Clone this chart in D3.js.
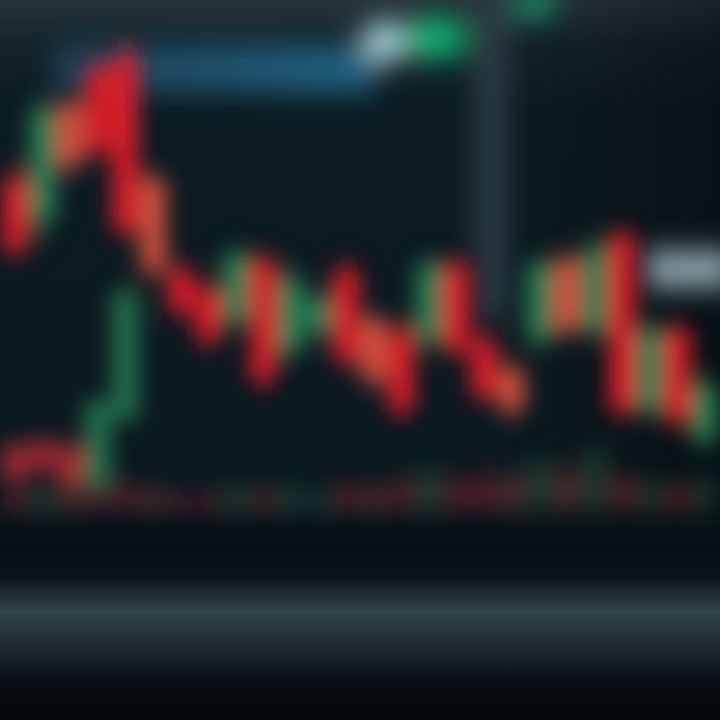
<!DOCTYPE html>
<html><head><meta charset="utf-8">
<script src="https://cdn.jsdelivr.net/npm/d3@7"></script>
<style>html,body{margin:0;padding:0;background:#0a1820;overflow:hidden}</style>
</head><body>
<script>
// ---- data ----
const slots = d3.range(26).map(i => "T" + (i + 1));
const open  = [108,100,123,130,133,108,90,86,80,92,74,78,90,80,78,76,91,76,70,76,92,78,97,62,78,56];
const close = [94,122,111,114,98,90,82,76,93,68,88,84,72,68,62,91,74,65,62,91,78,94,62,78,60,67];
const high  = [111,125,125,133,136,110,92,88,95,94,91,86,92,82,80,93,93,78,72,93,94,97,99,80,80,69];
const low   = [92,96,109,112,96,88,80,74,78,66,72,76,70,66,60,74,72,63,60,74,76,76,60,60,58,54];
const volume = [22,18,30,14,26,20,16,14,22,18,22,14,26,22,30,40,30,36,34,50,40,62,34,28,24,30];
// secondary (lower, out-of-focus) series
const lowSlots  = [0,1,2,3,4];
const lowOpen   = [55,56,55,46,60];
const lowClose  = [48,50,47,64,86];

// style: candles drawn in the warmer orange-red tone
const warmSlots = new Set([2,5,13,18,20]);

const W = 720, H = 720;
const svg = d3.select("body").append("svg").attr("width", W).attr("height", H);
const defs = svg.append("defs");
const f = defs.append("filter").attr("id","blur").attr("x","-20%").attr("y","-20%").attr("width","140%").attr("height","140%");
f.append("feGaussianBlur").attr("stdDeviation", 11);
const f2 = defs.append("filter").attr("id","blur2").attr("x","-50%").attr("y","-50%").attr("width","200%").attr("height","200%");
f2.append("feGaussianBlur").attr("stdDeviation", 14);

const bg = defs.append("linearGradient").attr("id","bg").attr("x1",0).attr("x2",0).attr("y1",0).attr("y2",1);
[[0,"#26343a"],[0.06,"#14232a"],[0.15,"#0c1b22"],[0.7,"#0b1920"],[0.76,"#050d12"],[0.8,"#0a1418"],[0.85,"#33444a"],[0.89,"#202e34"],[0.95,"#060c10"],[1,"#03080b"]]
  .forEach(([o,c]) => bg.append("stop").attr("offset",o).attr("stop-color",c));
svg.append("rect").attr("width",W).attr("height",H).attr("fill","url(#bg)");

const bgR = defs.append("linearGradient").attr("id","bgR").attr("x1",0).attr("x2",1).attr("y1",0).attr("y2",0);
bgR.append("stop").attr("offset",0).attr("stop-color","#000").attr("stop-opacity",0);
bgR.append("stop").attr("offset",0.7).attr("stop-color","#000").attr("stop-opacity",0);
bgR.append("stop").attr("offset",1).attr("stop-color","#000").attr("stop-opacity",0.35);
svg.append("rect").attr("width",W).attr("height",520).attr("fill","url(#bgR)");

const x = d3.scaleBand().domain(slots).range([0, W]).padding(0.1);
const y = d3.scaleLinear().domain([0, 144]).range([H, 0]);
const yv = d3.scaleLinear().domain([0, 100]).range([510, 410]);

const deco = svg.append("g").attr("filter","url(#blur2)");
const hb = defs.append("linearGradient").attr("id","hb").attr("x1",0).attr("x2",1);
hb.append("stop").attr("offset",0).attr("stop-color","#2a5a78").attr("stop-opacity",0.6);
hb.append("stop").attr("offset",1).attr("stop-color","#1a6a8c").attr("stop-opacity",0.9);
deco.append("rect").attr("x",55).attr("y",45).attr("width",320).attr("height",48).attr("fill","url(#hb)");
deco.append("ellipse").attr("cx",385).attr("cy",42).attr("rx",24).attr("ry",22).attr("fill","#9fc8d0");
deco.append("ellipse").attr("cx",435).attr("cy",38).attr("rx",32).attr("ry",22).attr("fill","#10b070");
deco.append("ellipse").attr("cx",535).attr("cy",4).attr("rx",22).attr("ry",12).attr("fill","#12a070");
deco.append("rect").attr("x",476).attr("y",0).attr("width",30).attr("height",320).attr("fill","#2e3e46");
deco.append("rect").attr("x",645).attr("y",250).attr("width",90).attr("height",38).attr("fill","#8aa0a8");

const g = svg.append("g").attr("filter","url(#blur)");
const cx = i => x(slots[i]) + x.bandwidth() / 2;
const red = "#e61c2a", warm = "#db5440", green = "#2a8556";
const col = i => close[i] >= open[i] ? green : (warmSlots.has(i) ? warm : red);

// volume
g.selectAll("rect.vol").data(volume).join("rect").attr("class","vol")
  .attr("x",(d,i)=>x(slots[i])).attr("width",x.bandwidth())
  .attr("y",d=>yv(d)).attr("height",d=>yv(0)-yv(d))
  .attr("fill",(d,i)=>col(i)).attr("opacity",0.3);

// lower series
g.selectAll("rect.low").data(lowSlots).join("rect").attr("class","low")
  .attr("x",(s)=>x(slots[s])).attr("width",x.bandwidth())
  .attr("y",(s,i)=>y(Math.max(lowOpen[i],lowClose[i])))
  .attr("height",(s,i)=>Math.abs(y(lowOpen[i])-y(lowClose[i])))
  .attr("fill",(s,i)=>lowClose[i]>=lowOpen[i]?green:"#c8303a").attr("opacity",0.85);

// wicks
g.selectAll("line.wick").data(slots).join("line").attr("class","wick")
  .attr("x1",(d,i)=>cx(i)).attr("x2",(d,i)=>cx(i))
  .attr("y1",(d,i)=>y(high[i])).attr("y2",(d,i)=>y(low[i]))
  .attr("stroke",(d,i)=>col(i)).attr("stroke-width",6);
// bodies
g.selectAll("rect.body").data(slots).join("rect").attr("class","body")
  .attr("x",d=>x(d)).attr("width",x.bandwidth())
  .attr("y",(d,i)=>y(Math.max(open[i],close[i])))
  .attr("height",(d,i)=>Math.max(2,Math.abs(y(open[i])-y(close[i]))))
  .attr("fill",(d,i)=>col(i));
</script>
</body></html>
